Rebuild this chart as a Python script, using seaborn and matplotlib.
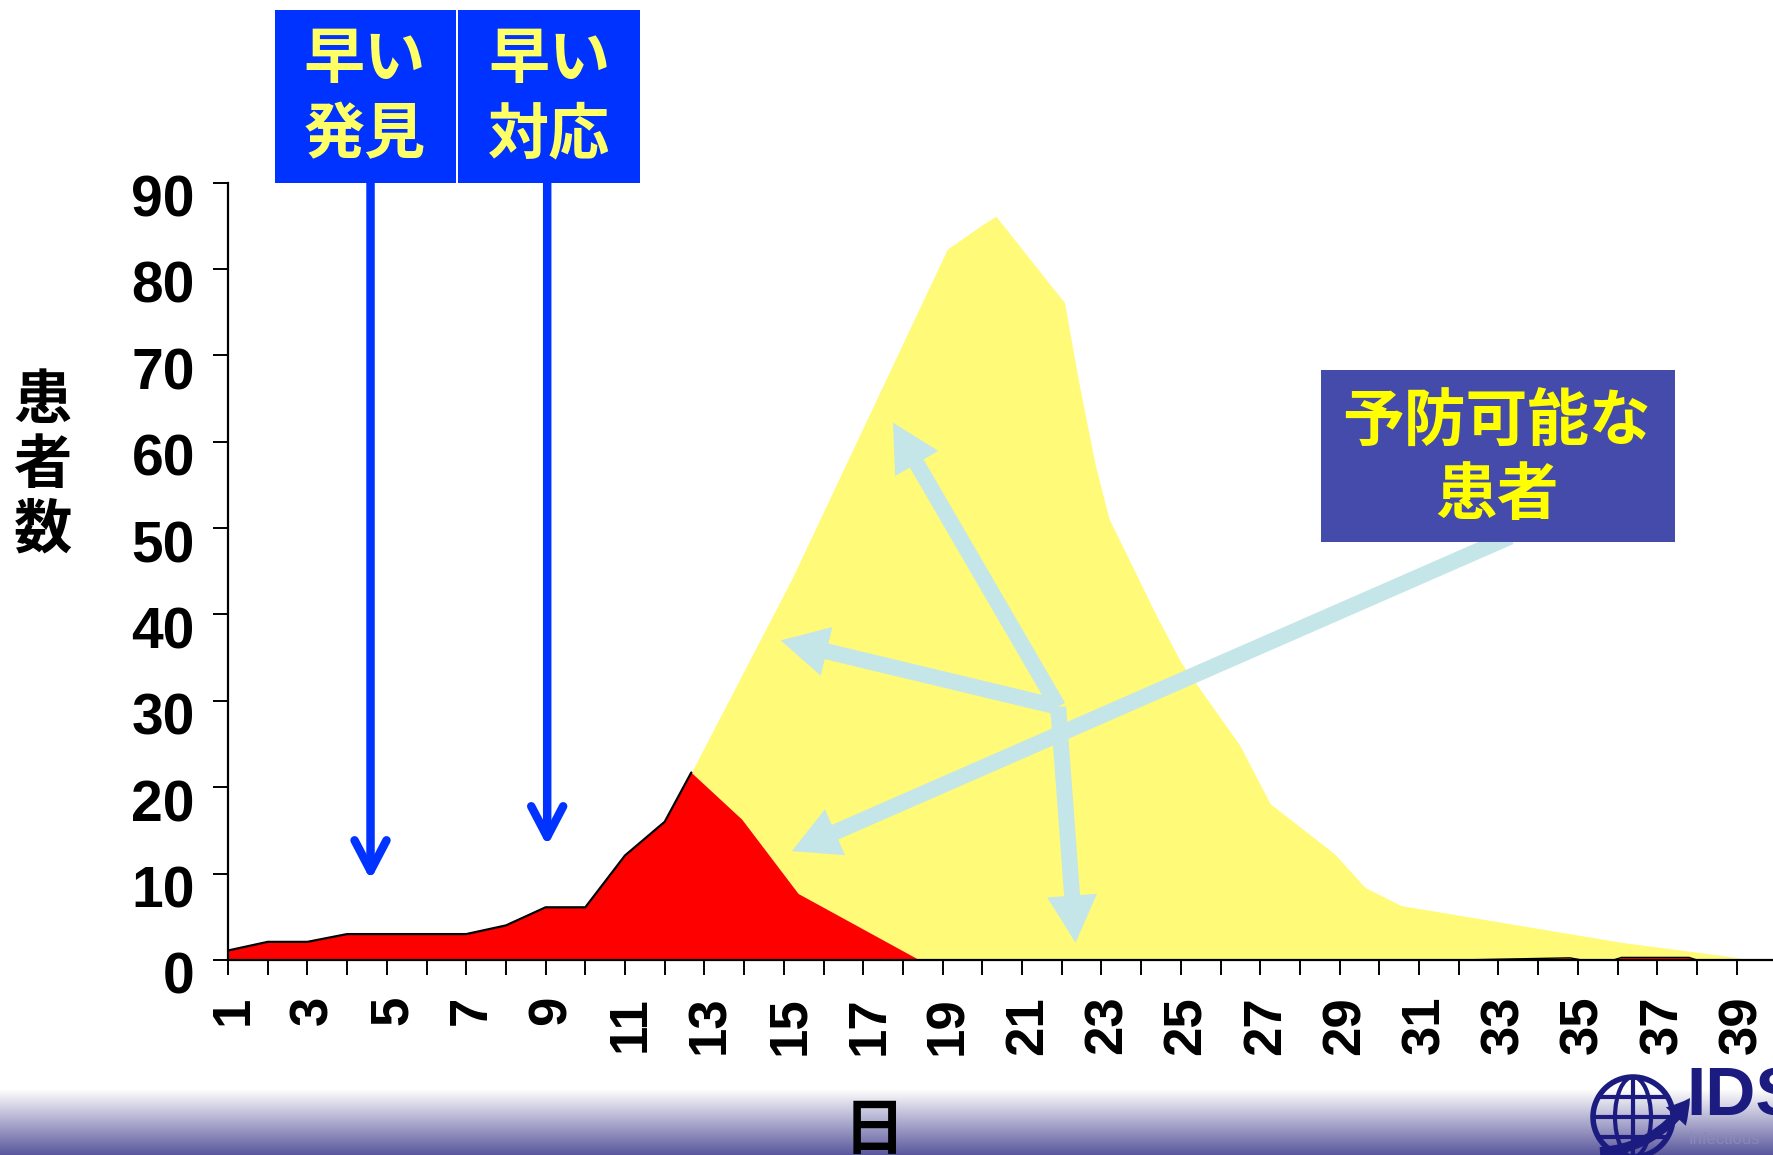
import numpy as np
import matplotlib
matplotlib.use("Agg")
import matplotlib.pyplot as plt
import seaborn as sns
from matplotlib.patches import Rectangle, Circle, Ellipse
from matplotlib.transforms import ScaledTranslation

# ---------------- data ----------------
days = list(range(1, 40))
day_labels = [str(d) if d % 2 == 1 else "" for d in days]
y_ticks = [0, 10, 20, 30, 40, 50, 60, 70, 80, 90]

# early detection / early response scenario (red)
red_days = [1, 2, 3, 4, 5, 6, 7, 8, 9, 10, 11, 12, 12.67, 13.94, 15.36, 18.42]
red_cases = [1.1, 2.1, 2.1, 3.0, 3.0, 3.0, 3.0, 4.0, 6.1, 6.1, 12.1, 16.0, 21.7, 16.3, 7.7, 0.0]
red_tail_days = [32.0, 34.8, 35.1, 35.9, 36.1, 37.8, 38.0]
red_tail_cases = [0.0, 0.25, 0.0, 0.0, 0.3, 0.3, 0.0]

# no-intervention scenario (yellow), beyond the red curve
yellow_days = [12.67, 15.2, 19.12, 20.0, 20.34, 22.07, 22.42, 22.84, 23.19, 24.38,
               25.01, 26.48, 27.25, 28.87, 29.64, 30.55, 36.16, 38.68, 39.38]
yellow_cases = [21.7, 44.1, 82.3, 85.1, 86.1, 76.1, 67.1, 57.4, 51.1, 39.9,
                34.4, 24.9, 18.1, 12.3, 8.4, 6.3, 2.0, 0.5, 0.0]

label_early_detect = ["早い", "発見"]
label_early_resp = ["早い", "対応"]
label_preventable = ["予防可能な", "患者"]
y_title = ["患", "者", "数"]
x_title = "日"

# ---------------- style ----------------
sns.set_theme(style="white")
plt.rcParams["font.family"] = ["DejaVu Sans"]
CJK = ["Noto Sans CJK JP", "DejaVu Sans"]

RED = "#FF0000"
YELLOW = "#FFFA78"
BLUE = "#0033FF"
LBLUE = "#C5E6E8"
NAVY_BOX = "#444BAA"
TXT_Y1 = "#FFFF66"
TXT_Y2 = "#FFFF00"

W, H = 1773, 1155
fig = plt.figure(figsize=(W / 100, H / 100), dpi=100)
fig.patch.set_facecolor("white")

# bottom gradient band
gax = fig.add_axes([0, 0, 1, 66 / H])
grad = np.linspace(0, 1, 200)[:, None]
c0 = np.array([1.0, 1.0, 1.0])
c1 = np.array([0x5A, 0x57, 0x9C]) / 255
img = c0[None, None, :] * (1 - grad[..., None]) + c1[None, None, :] * grad[..., None]
img = np.repeat(img, 2, axis=1)
gax.imshow(img, aspect="auto", extent=[0, 1, 0, 1], origin="upper")
gax.set_axis_off()

# main axes
x_right = 1 + (W - 228) / 39.7
ax = fig.add_axes([228 / W, 1 - 960 / H, 1 - 228 / W, (960 - 182.5) / H])
ax.set_facecolor("none")

ax.fill_between(yellow_days, 0, yellow_cases, color=YELLOW, lw=0, zorder=1)
ax.fill_between(red_days, 0, red_cases, color=RED, lw=0, zorder=2)
ax.fill_between(red_tail_days, 0, red_tail_cases, color=RED, lw=0, zorder=2)
sns.lineplot(x=red_days[:13], y=red_cases[:13], color="black", linewidth=1.6,
             ax=ax, estimator=None, sort=False, zorder=3)
sns.lineplot(x=red_tail_days, y=red_tail_cases, color="black", linewidth=1.0,
             ax=ax, estimator=None, sort=False, zorder=3)

ax.set_xlim(1, x_right)
ax.set_ylim(0, 90)
ax.set_xlabel("")
ax.set_ylabel("")
for s in ["top", "right"]:
    ax.spines[s].set_visible(False)
for s in ["left", "bottom"]:
    ax.spines[s].set_color("black")
    ax.spines[s].set_linewidth(1.6)
    ax.spines[s].set_zorder(10)

ax.set_yticks(y_ticks)
ax.set_yticklabels([str(v) for v in y_ticks])
ax.set_xticks(days)
ax.set_xticklabels(day_labels, rotation=90)
ax.tick_params(axis="both", direction="out", length=10.8, width=1.4, color="black",
               left=True, bottom=True)
ax.tick_params(axis="y", pad=13)
ax.tick_params(axis="x", pad=15)
for lab in ax.get_yticklabels():
    lab.set_fontfamily(["Liberation Sans", "DejaVu Sans"])
    lab.set_fontweight("bold")
    lab.set_fontsize(41)
    lab.set_color("black")
    lab.set_transform(lab.get_transform() + ScaledTranslation(0, -0.13, fig.dpi_scale_trans))
for lab in ax.get_xticklabels():
    lab.set_fontfamily(["Liberation Sans", "DejaVu Sans"])
    lab.set_fontweight("bold")
    lab.set_fontsize(38)
    lab.set_color("black")
    lab.set_transform(lab.get_transform() + ScaledTranslation(0.06, 0, fig.dpi_scale_trans))

# light-blue arrows
hub = (21.91, 29.3)
hub_tips = [(17.75, 62.2), (14.92, 37.0), (22.35, 2.0)]
long_from, long_to = (33.3, 49.0), (15.2, 12.6)
lb_style = "simple,head_length=3.4,head_width=3.6,tail_width=1.15"
for tip in hub_tips + [None]:
    start, end = (hub, tip) if tip is not None else (long_from, long_to)
    ax.annotate("", xy=end, xytext=start, xycoords="data", annotation_clip=False,
                arrowprops=dict(arrowstyle=lb_style, color=LBLUE, lw=0,
                                mutation_scale=10, shrinkA=0, shrinkB=0),
                zorder=4)

# blue boxes with arrows
box_top, box_bot = 110.0, 90.0
blue_boxes = [(2.18, 6.74, label_early_detect, 4.45, 4.59, 9.26),
              (6.79, 11.38, label_early_resp, 9.09, 9.04, 13.2)]
for x0, x1, lines, tx, axx, tipv in blue_boxes:
    ax.add_patch(Rectangle((x0, box_bot), x1 - x0, box_top - box_bot, facecolor=BLUE,
                           edgecolor="none", clip_on=False, zorder=6))
    for line, ty in zip(lines, [104.1, 95.4]):
        ax.text(tx, ty, line, ha="center", va="center", fontsize=44, fontweight="bold",
                family=CJK, color=TXT_Y1, zorder=7, clip_on=False)
    ax.annotate("", xy=(axx, tipv), xytext=(axx, box_bot), xycoords="data",
                annotation_clip=False,
                arrowprops=dict(arrowstyle="->,head_length=2.2,head_width=1.15",
                                color=BLUE, lw=6.1, mutation_scale=10,
                                shrinkA=0, shrinkB=0, capstyle="round", joinstyle="round"),
                zorder=5)

# preventable patients box
ax.add_patch(Rectangle((28.52, 48.44), 37.44 - 28.52, 68.35 - 48.44, facecolor=NAVY_BOX,
                       edgecolor="none", clip_on=False, zorder=6))
for line, ty in zip(label_preventable, [62.2, 53.8]):
    ax.text(32.96, ty, line, ha="center", va="center", fontsize=44.5, fontweight="bold",
            family=CJK, color=TXT_Y2, zorder=7)

# axis titles
for ch, py in zip(y_title, [401, 466, 530]):
    fig.text(43 / W, 1 - py / H, ch, ha="center", va="center", fontsize=42,
             fontweight="bold", family=CJK, color="black")
fig.text(874 / W, 1 - 1131 / H, x_title, ha="center", va="center", fontsize=44,
         fontweight="bold", family=CJK, color="black")

# logo (bottom right)
lax = fig.add_axes([0, 0, 1, 1], facecolor="none")
lax.set_xlim(0, W)
lax.set_ylim(H, 0)
lax.set_axis_off()
navy = "#1C1C80"
cx, cy, r = 1633, 1117, 40
lax.add_patch(Circle((cx, cy), r, fill=False, ec=navy, lw=4))
lax.add_patch(Ellipse((cx, cy), 36, 2 * r, fill=False, ec=navy, lw=3))
lax.plot([cx, cx], [cy - r, cy + r], color=navy, lw=3)
for dy in [-20, 0, 20]:
    hw = np.sqrt(r ** 2 - dy ** 2)
    lax.plot([cx - hw, cx + hw], [cy + dy, cy + dy], color=navy, lw=3)
lax.annotate("", xy=(1690, 1098), xytext=(1600, 1152),
             arrowprops=dict(arrowstyle="simple,head_length=1.2,head_width=1.4,tail_width=0.5",
                             color=navy, lw=0, mutation_scale=14,
                             connectionstyle="arc3,rad=0.25", shrinkA=0, shrinkB=0))
lax.text(1686, 1097, "IDS", ha="left", va="center", fontsize=50, fontweight="bold",
         family=["Liberation Sans", "DejaVu Sans"], color=navy)
lax.text(1688, 1140, "Infectious", ha="left", va="center", fontsize=12,
         family=["Liberation Sans", "DejaVu Sans"], color="#8A88B8")

fig.savefig("out.png", dpi=100)
